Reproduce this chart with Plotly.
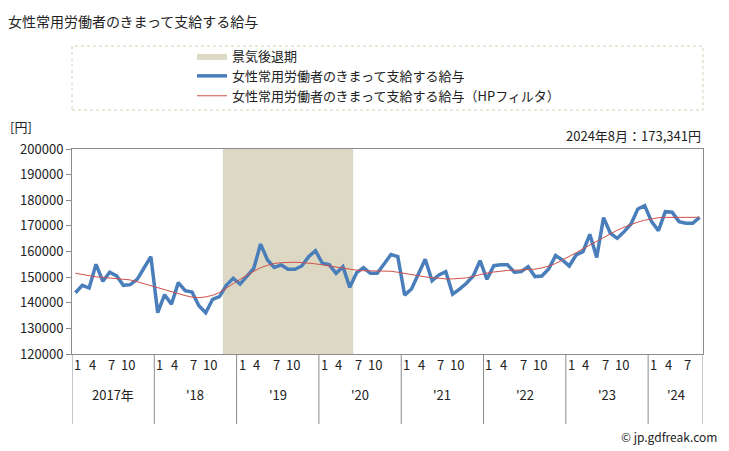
import plotly.graph_objects as go

# ---------------- data ----------------
chart_title = "女性常用労働者のきまって支給する給与"
series_name = "女性常用労働者のきまって支給する給与"
hp_name = "女性常用労働者のきまって支給する給与（HPフィルタ）"
recession_name = "景気後退期"
unit_label = "[円]"
latest_note = "2024年8月：173,341円"
credit = "© jp.gdfreak.com"

start_year = 2017
years = [2017, 2018, 2019, 2020, 2021, 2022, 2023, 2024]
year_labels = ["2017年", "'18", "'19", "'20", "'21", "'22", "'23", "'24"]
month_ticks = [1, 4, 7, 10]

# monthly values Jan 2017 .. Aug 2024 (yen)
wage = [
    143900, 146800, 145750, 155000, 148400, 151900, 150450, 146800, 147050, 149150, 153550, 158000,
    136100, 143150, 139400, 147850, 144700, 144200, 138850, 136100, 141350, 142400, 146800, 149550,
    147300, 150200, 153450, 162900, 156700, 153800, 154750, 153050, 153050, 154350, 158000, 160300,
    155400, 154850, 151500, 154100, 146000, 151750, 153700, 151500, 151500, 155100, 158800, 158000,
    143000, 145350, 151500, 156950, 148600, 150850, 152150, 143400, 145350, 147600, 150450, 156400,
    149150, 154450, 154850, 154850, 151900, 152150, 154100, 150200, 150450, 153200, 158400, 156700,
    154350, 158650, 159950, 166700, 157700, 173200, 167100, 165150, 167750, 170750, 176600, 177900,
    171650, 168150, 175550, 175300, 171650, 171000, 171000, 173341,
]

wage_hp = [
    151500, 151000, 150500, 150100, 149900, 149700, 149550, 149300, 148900, 148200, 147400, 146600,
    145800, 145000, 144200, 143400, 142800, 142200, 142000, 142300, 142900, 144000, 145600, 147300,
    149100, 150800, 152400, 153700, 154600, 155300, 155650, 155800, 155800, 155700, 155500, 155200,
    154800, 154400, 153900, 153400, 153000, 152700, 152500, 152500, 152500, 152500, 152300, 151900,
    151400, 150900, 150500, 150100, 149800, 149500, 149300, 149300, 149400, 149700, 150300, 151000,
    151600, 152000, 152400, 152600, 152700, 152800, 152900, 153100, 153600, 154300, 155300, 156600,
    158000, 159500, 161100, 162600, 164100, 165600, 167000, 168300, 169500, 170600, 171500, 172200,
    172800, 173200, 173300, 173350, 173350, 173350, 173350, 173350,
]

recession_start = (2018, 11)
recession_end = (2020, 5)

y_min, y_max, y_step = 120000, 200000, 10000

# ---------------- helpers ----------------
n = len(wage)
x_idx = list(range(n))


def month_index(year, month):
    return (year - start_year) * 12 + (month - 1)


rs = month_index(*recession_start) - 0.5
re_ = month_index(*recession_end) + 0.5

# ---------------- style ----------------
FONT = "Noto Sans CJK JP"
AXIS_COLOR = "#8c8c8c"
BLUE = "#4a7ebb"
RED = "#d0504a"
SHADE = "#ddd8c4"

fig = go.Figure()

fig.add_trace(go.Scatter(
    x=[rs, re_, re_, rs, rs],
    y=[y_min, y_min, y_max, y_max, y_min],
    mode="lines", fill="toself", fillcolor=SHADE,
    line=dict(width=0, color=SHADE),
    name=recession_name,
    legendgroup="a",
    hoverinfo="skip",
))

fig.add_trace(go.Scatter(
    x=x_idx, y=wage, mode="lines",
    line=dict(color=BLUE, width=3.5),
    name=series_name, legendgroup="b",
))

fig.add_trace(go.Scatter(
    x=x_idx, y=wage_hp, mode="lines",
    line=dict(color=RED, width=1),
    name=hp_name, legendgroup="c",
))

# plot geometry
L, R, T, B = 72, 26, 149, 97
W, H = 729, 451
plot_h = H - T - B
plot_w = W - L - R


def py(px):
    """pixel y (from top) -> paper y"""
    return (H - B - px) / plot_h


def pxx(px):
    """pixel x (from left) -> paper x"""
    return (px - L) / plot_w


shapes = []
annotations = []

# legend frame (dotted)
shapes.append(dict(type="rect", xref="paper", yref="paper",
                   x0=0, x1=1.0, y0=py(110), y1=py(46),
                   line=dict(color="#d6d0b4", width=1, dash="dot"),
                   fillcolor="rgba(0,0,0,0)", layer="above"))

# year separators (category boundaries)
boundaries = [month_index(y, 1) for y in years] + [n]
for b in boundaries:
    shapes.append(dict(type="line", xref="x", yref="paper",
                       x0=b - 0.5, x1=b - 0.5, y0=0, y1=py(424),
                       line=dict(color=AXIS_COLOR, width=1)))

# month labels and year labels
month_shift = {1: 2, 4: -4, 7: -5, 10: -9}
for yr, lab in zip(years, year_labels):
    first = month_index(yr, 1)
    last = min(month_index(yr, 12), n - 1)
    for m in month_ticks:
        mi = month_index(yr, m)
        if mi <= n - 1:
            annotations.append(dict(x=mi, y=py(376), xref="x", yref="paper",
                                    text=str(m), showarrow=False,
                                    xshift=month_shift[m],
                                    font=dict(size=13, color="#222", family=FONT)))
    annotations.append(dict(x=(first + last) / 2, y=py(406), xref="x", yref="paper",
                            text=lab, showarrow=False,
                            font=dict(size=13, color="#222", family=FONT)))

annotations.append(dict(x=pxx(8), y=py(127), xref="paper", yref="paper", text=unit_label,
                        showarrow=False, xanchor="left", yanchor="middle",
                        font=dict(size=13, color="#222", family=FONT)))
annotations.append(dict(x=1.0, y=py(135), xref="paper", yref="paper", text=latest_note,
                        showarrow=False, xanchor="right", yanchor="middle",
                        font=dict(size=13, color="#222", family=FONT)))
annotations.append(dict(x=pxx(W - 10), y=py(436), xref="paper", yref="paper",
                        text=credit, showarrow=False, xanchor="right", yanchor="middle",
                        font=dict(size=12, color="#222", family=FONT)))

fig.update_layout(
    width=W, height=H,
    margin=dict(l=L, r=R, t=T, b=B, pad=0),
    paper_bgcolor="white", plot_bgcolor="white",
    font=dict(family=FONT, size=13, color="#222"),
    title=dict(text=chart_title, x=8 / W, xanchor="left", y=1 - 22 / H, yanchor="middle",
               font=dict(size=14, color="#222", family=FONT)),
    showlegend=True,
    legend=dict(x=pxx(192), y=py(41), xanchor="left", yanchor="top",
                bgcolor="rgba(0,0,0,0)", borderwidth=0,
                font=dict(size=13, color="#222", family=FONT),
                tracegroupgap=3, traceorder="normal"),
    shapes=shapes,
    annotations=annotations,
    xaxis=dict(range=[-0.5, n - 0.5], showticklabels=False, ticks="",
               showgrid=False, zeroline=False, showline=True,
               linecolor=AXIS_COLOR, linewidth=1, mirror=True),
    yaxis=dict(range=[y_min, y_max], dtick=y_step, tick0=y_min,
               showgrid=False, zeroline=False, showline=True,
               linecolor=AXIS_COLOR, linewidth=1, mirror=True,
               ticks="outside", ticklen=5, tickcolor=AXIS_COLOR,
               tickformat="d",
               tickfont=dict(size=13, color="#222", family=FONT)),
)

fig.write_html("out.html")
